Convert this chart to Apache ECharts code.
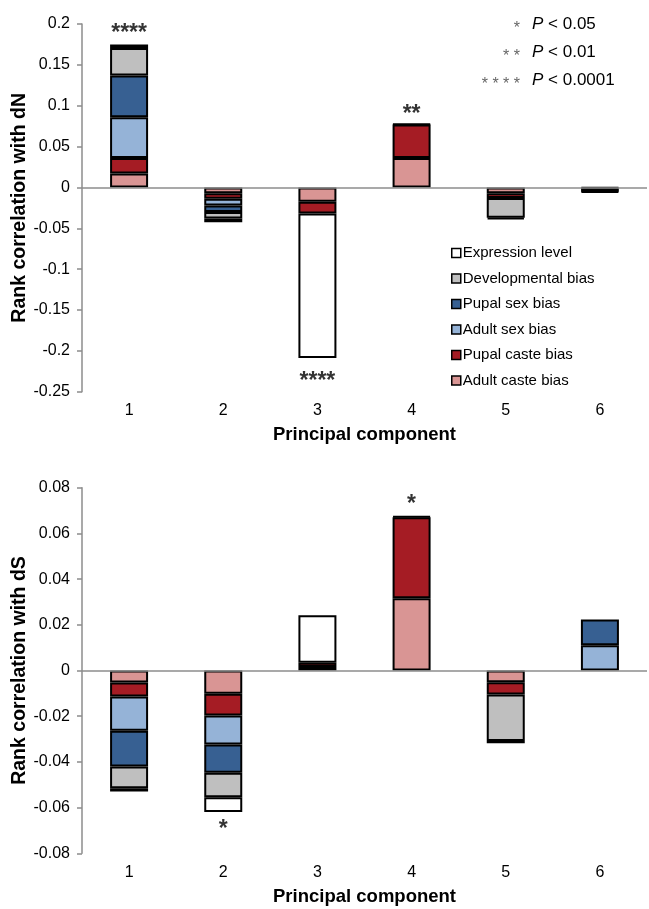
<!DOCTYPE html>
<html>
<head>
<meta charset="utf-8">
<script src="https://cdn.jsdelivr.net/npm/echarts@6/dist/echarts.min.js"></script>
<style>
html,body{margin:0;padding:0;background:#fff;}
#chart{width:649px;height:909px;}
</style>
</head>
<body>
<div id="chart"></div>
<script>
// ---- data ----
const categories = ['1', '2', '3', '4', '5', '6'];
const seriesNames = ['Adult caste bias', 'Pupal caste bias', 'Adult sex bias', 'Pupal sex bias', 'Developmental bias', 'Expression level'];
const legendOrder = ['Expression level', 'Developmental bias', 'Pupal sex bias', 'Adult sex bias', 'Pupal caste bias', 'Adult caste bias'];
const seriesColors = ['#d99594', '#a51c24', '#95b3d7', '#376092', '#bfbfbf', '#ffffff'];

// rank correlation with dN
const dN_adultCaste   = [0.017, -0.007, -0.0175, 0.036, -0.007, -0.001];
const dN_pupalCaste   = [0.019, -0.007, -0.0143, 0.041, -0.006, -0.001];
const dN_adultSex     = [0.050, -0.008, null, null, null, -0.001];
const dN_pupalSex     = [0.051, -0.008, null, null, null, -0.001];
const dN_developmental= [0.0335, -0.008, null, null, -0.024, -0.001];
const dN_expression   = [0.0045, -0.0045, -0.177, 0.0008, -0.002, -0.0012];

// rank correlation with dS
const dS_adultCaste   = [-0.0052, -0.0102, 0.0015, 0.0316, -0.0051, null];
const dS_pupalCaste   = [-0.0062, -0.0095, 0.0019, 0.0355, -0.0054, null];
const dS_adultSex     = [-0.015, -0.0127, null, null, null, 0.011];
const dS_pupalSex     = [-0.0156, -0.0124, null, null, null, 0.0113];
const dS_developmental= [-0.0095, -0.0107, null, null, -0.0204, null];
const dS_expression   = [-0.0015, -0.0064, 0.0208, 0.0004, -0.0009, null];

// significance marks: category index, value position, text
const dN_starCats = [0, 3, 2];
const dN_starVals = [0.1946, 0.0955, -0.231];
const dN_starText = ['****', '**', '****'];
const dS_starCats = [3, 1];
const dS_starVals = [0.0748, -0.0674];
const dS_starText = ['*', '*'];

// axis ticks
const dN_axis = {min: -0.25, max: 0.2, interval: 0.05};
const dS_axis = {min: -0.08, max: 0.08, interval: 0.02};

// p-value key
const pStars = ['*', '* *', '* * * *'];
const pText = ['0.05', '0.01', '0.0001'];

// ---- chart ----
const FONT = 'Liberation Sans, Arial, sans-serif';
const dNSeries = [dN_adultCaste, dN_pupalCaste, dN_adultSex, dN_pupalSex, dN_developmental, dN_expression];
const dSSeries = [dS_adultCaste, dS_pupalCaste, dS_adultSex, dS_pupalSex, dS_developmental, dS_expression];

const grids = [
  {left: 82, right: 2, top: 24, height: 367.7, containLabel: false, outerBoundsMode: 'none'},
  {left: 82, right: 2, top: 487.7, height: 365.6, containLabel: false, outerBoundsMode: 'none'}
];

function xAxisFor(i) {
  return {
    type: 'category', gridIndex: i, data: categories,
    axisLine: {show: false, onZero: false},
    axisTick: {show: false},
    axisLabel: {color: '#000', fontSize: 16, fontFamily: FONT, margin: 11},
    name: 'Principal component', nameLocation: 'middle', nameGap: 34, nameMoveOverlap: false,
    nameTextStyle: {fontSize: 18.5, fontWeight: 'bold', color: '#000', fontFamily: FONT}
  };
}
function yAxisFor(i, ax, name) {
  return {
    type: 'value', gridIndex: i, min: ax.min, max: ax.max, interval: ax.interval,
    axisLine: {show: true, onZero: false, lineStyle: {color: '#8c8c8c', width: 1.5}},
    axisTick: {show: true, length: 5, lineStyle: {color: '#8c8c8c', width: 1.5}},
    splitLine: {show: false},
    axisLabel: {color: '#000', fontSize: 16, fontFamily: FONT, margin: 12},
    name: name, nameLocation: 'middle', nameGap: 52, nameMoveOverlap: false,
    nameTextStyle: {fontSize: 19.5, fontWeight: 'bold', color: '#000', fontFamily: FONT}
  };
}

const series = [];
[dNSeries, dSSeries].forEach((set, g) => {
  set.forEach((vals, k) => {
    const s = {
      name: seriesNames[k], type: 'bar', stack: g === 0 ? 'dN' : 'dS',
      xAxisIndex: g, yAxisIndex: g, barWidth: 38, data: vals,
      itemStyle: {color: seriesColors[k], borderColor: '#000', borderWidth: 2},
      emphasis: {disabled: true}
    };
    if (k === 0) {
      s.markLine = {
        silent: true, symbol: 'none', label: {show: false},
        lineStyle: {color: '#8c8c8c', width: 1.5, type: 'solid'},
        data: [{yAxis: 0}], z: 10
      };
    }
    series.push(s);
  });
});

function starSeries(g, cats, vals, texts) {
  return {
    type: 'scatter', xAxisIndex: g, yAxisIndex: g, symbolSize: 0, silent: true,
    data: cats.map((c, i) => [c, vals[i], texts[i]]),
    label: {
      show: true, position: 'inside', formatter: p => p.data[2],
      fontSize: 23, fontWeight: 'bold', color: '#000', fontFamily: FONT, offset: [0, 5.5]
    },
    z: 20
  };
}
series.push(starSeries(0, dN_starCats, dN_starVals, dN_starText));
series.push(starSeries(1, dS_starCats, dS_starVals, dS_starText));

const keyY = [26, 54, 81.5];
const graphics = [];
keyY.forEach((y, i) => {
  graphics.push({
    type: 'text', right: 649 - 520, top: y - 5,
    style: {text: pStars[i], fontSize: 16, fill: '#666', fontFamily: FONT, textAlign: 'right'}
  });
  graphics.push({
    type: 'text', left: 532, top: y - 10,
    style: {
      text: '{i|P} < ' + pText[i], fontSize: 17, fill: '#000', fontFamily: FONT,
      rich: {i: {fontStyle: 'italic', fontSize: 17, fill: '#000', fontFamily: FONT}}
    }
  });
});

const chart = echarts.init(document.getElementById('chart'), null, {renderer: 'canvas'});
chart.setOption({
  animation: false,
  backgroundColor: '#fff',
  textStyle: {fontFamily: FONT},
  grid: grids,
  xAxis: [xAxisFor(0), xAxisFor(1)],
  yAxis: [yAxisFor(0, dN_axis, 'Rank correlation with dN'), yAxisFor(1, dS_axis, 'Rank correlation with dS')],
  legend: {
    data: legendOrder, orient: 'vertical', left: 446, top: 240,
    itemWidth: 9, itemHeight: 9, itemGap: 9.5, icon: 'rect',
    itemStyle: {borderColor: '#000', borderWidth: 1.5},
    textStyle: {fontSize: 15, color: '#000', fontFamily: FONT, padding: [0, 0, 0, -3], lineHeight: 16},
    selectedMode: false
  },
  graphic: graphics,
  series: series
});
</script>
</body>
</html>
